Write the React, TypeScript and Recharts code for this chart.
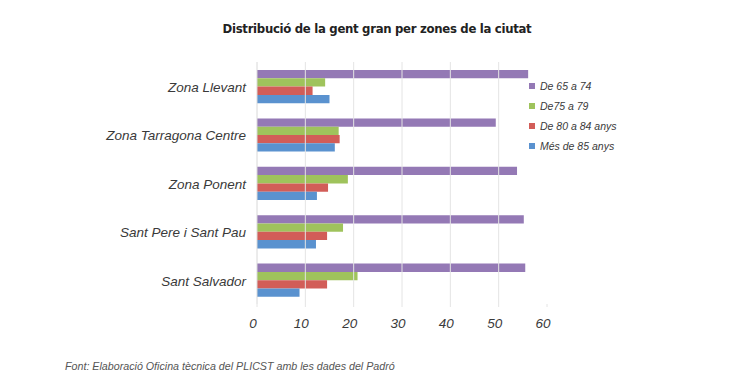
import { BarChart, Bar, XAxis, YAxis, ReferenceLine } from "recharts";

const zones = [
  "Zona Llevant",
  "Zona Tarragona Centre",
  "Zona Ponent",
  "Sant Pere i Sant Pau",
  "Sant Salvador",
];
const de65a74 = [56.1, 49.4, 53.8, 55.2, 55.5];
const de75a79 = [14.1, 16.9, 18.8, 17.8, 20.8];
const de80a84 = [11.5, 17.1, 14.7, 14.5, 14.5];
const mes85 = [15.0, 16.1, 12.4, 12.2, 8.8];
const xTicks = [0, 10, 20, 30, 40, 50, 60];
// inner gridlines only (no line at 0 or at 60 in the original)
const gridValues = [10, 20, 30, 40, 50];

const series = [
  { key: "a", name: "De 65 a 74", color: "#9479b5", values: de65a74 },
  { key: "b", name: "De75 a 79", color: "#9fc35c", values: de75a79 },
  { key: "c", name: "De 80 a 84 anys", color: "#d25d58", values: de80a84 },
  { key: "d", name: "Més de 85 anys", color: "#5a92cf", values: mes85 },
];

const data = zones.map((zone, i) => {
  const row: Record<string, string | number> = { zone };
  series.forEach((s) => (row[s.key] = s.values[i]));
  return row;
});

const LABEL_FONT = "'Liberation Sans', Arial, sans-serif";
const TEXT = "#3a3a3a";

// legend drawn as plain html so it does not take space from the plot
function LegendBox() {
  return (
    <div
      style={{
        position: "absolute",
        left: 529,
        top: 76,
        fontFamily: LABEL_FONT,
        fontStyle: "italic",
        fontSize: 10.5,
        color: TEXT,
      }}
    >
      {series.map((s) => (
        <div key={s.key} style={{ display: "flex", alignItems: "center", height: 20 }}>
          <span style={{ width: 6, height: 6, background: s.color, marginRight: 5 }} />
          <span>{s.name}</span>
        </div>
      ))}
    </div>
  );
}

export default function App() {
  return (
    <div style={{ position: "absolute", left: 0, top: 0, width: 730, height: 388, background: "#fff" }}>
      <div
        style={{
          position: "absolute",
          top: 21,
          left: 0,
          width: 754,
          textAlign: "center",
          fontFamily: "'DejaVu Sans Condensed', 'DejaVu Sans', sans-serif",
          fontWeight: "bold",
          fontSize: 13,
          letterSpacing: -0.3,
          color: "#222",
        }}
      >
        Distribució de la gent gran per zones de la ciutat
      </div>
      <BarChart
        width={730}
        height={388}
        data={data}
        layout="vertical"
        margin={{ top: 62, right: 183, left: 0, bottom: 54 }}
        barSize={8.3}
        barGap={0}
      >
        {gridValues.map((v) => (
          <ReferenceLine key={v} x={v} stroke="#e4e4e4" />
        ))}
        <XAxis
          type="number"
          domain={[0, 60]}
          ticks={xTicks}
          height={30}
          axisLine={false}
          tickLine={{ stroke: "#e4e4e4" }}
          tickSize={3}
          tickMargin={11}
          tick={{ fill: TEXT, fontSize: 13.5, fontStyle: "italic", fontFamily: LABEL_FONT, dx: -4 }}
        />
        <YAxis
          type="category"
          dataKey="zone"
          width={257}
          axisLine={{ stroke: "#d8d8d8" }}
          tickLine={false}
          tickMargin={5}
          tick={{ fill: TEXT, fontSize: 13.5, fontStyle: "italic", fontFamily: LABEL_FONT, dy: 1 }}
        />
        {series.map((s) => (
          <Bar key={s.key} dataKey={s.key} name={s.name} fill={s.color} isAnimationActive={false} />
        ))}
      </BarChart>
      <LegendBox />
      <div
        style={{
          position: "absolute",
          top: 360,
          left: 65,
          fontFamily: LABEL_FONT,
          fontStyle: "italic",
          fontSize: 10.7,
          color: "#555",
          whiteSpace: "nowrap",
        }}
      >
        Font: Elaboració Oficina tècnica del PLICST amb les dades del Padró
      </div>
    </div>
  );
}
